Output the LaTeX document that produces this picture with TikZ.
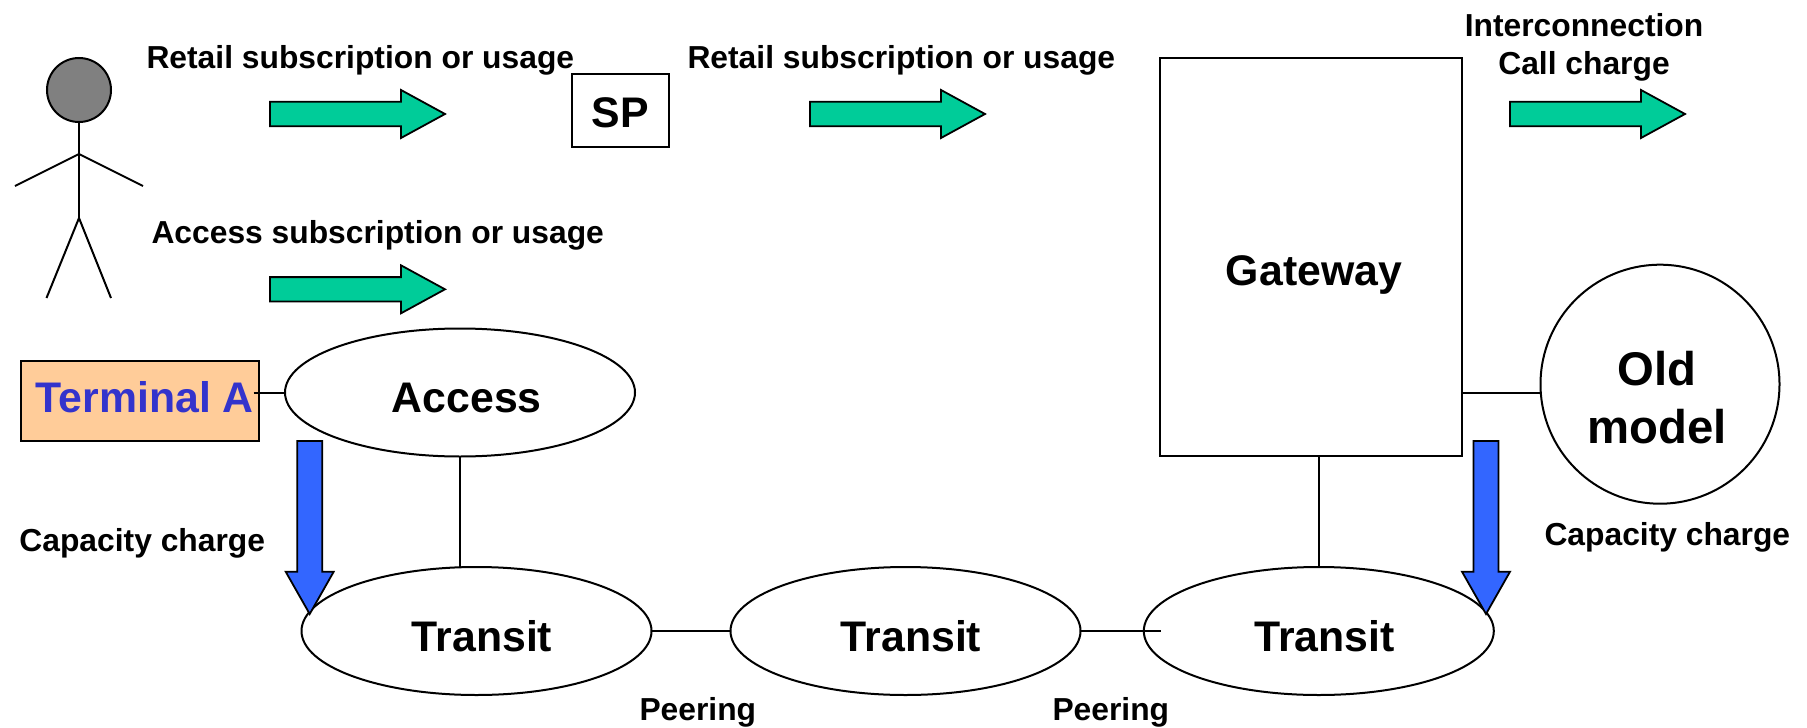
\documentclass[tikz,border=0pt]{standalone}
\usepackage{fontspec}
\setmainfont{Liberation Sans}
\usetikzlibrary{shapes.geometric}
\definecolor{arrowgreen}{HTML}{00CC99}
\definecolor{arrowblue}{HTML}{3366FF}
\definecolor{termfill}{HTML}{FFCC99}
\definecolor{termtext}{HTML}{3333CC}
\definecolor{headgray}{HTML}{808080}
\tikzset{
  every node/.style={inner sep=0pt,outer sep=0pt},
  smallfont/.style={font=\fontsize{31.8}{31.8}\selectfont\bfseries},
  smalltxt/.style={smallfont,anchor=base west},
  bigtxt/.style={font=\fontsize{42.8}{42.8}\selectfont\bfseries,anchor=base},
  hugetxt/.style={font=\fontsize{47.3}{47.3}\selectfont\bfseries,anchor=base},
  oval/.style={draw,ellipse,line width=2pt,minimum width=350pt,minimum height=128pt},
  boxed/.style={draw,rectangle,line width=2pt},
  wire/.style={line width=2pt},
  thinwire/.style={line width=1.6pt}
}
\newcommand{\greenarrow}[2]{% x-start, y of the tip
  \draw[line width=1.8pt,fill=arrowgreen,line join=miter]
    (#1,#2-12.2)--(#1+131,#2-12.2)--(#1+131,#2-24)--(#1+175,#2)--(#1+131,#2+24)--(#1+131,#2+12.2)--(#1,#2+12.2)--cycle;}
\newcommand{\bluearrow}[1]{% tip x
  \draw[line width=1.8pt,fill=arrowblue,line join=miter]
    (#1-12.5,441)--(#1+12.5,441)--(#1+12.5,571.7)--(#1+24,571.7)--(#1,614)--(#1-24,571.7)--(#1-12.5,571.7)--cycle;}
\begin{document}
\begin{tikzpicture}[x=1pt,y=-1pt]
\useasboundingbox (0,0) rectangle (1807,728);
% stick figure
\node[draw,circle,line width=2pt,fill=headgray,minimum size=64pt] (head) at (79,90) {};
\coordinate (shoulder) at (79,154);
\coordinate (hip) at (79,218);
\coordinate (handl) at (15,186);
\coordinate (handr) at (143,186);
\coordinate (footl) at (46.5,298);
\coordinate (footr) at (111,298);
\draw[wire] (head.south) -- (hip);
\draw[wire] (handl) -- (shoulder) -- (handr);
\draw[wire] (footl) -- (hip) -- (footr);
% boxes
\node[boxed,minimum width=97pt,minimum height=73pt] (sp) at (620,110.5) {};
\node[boxed,fill=termfill,minimum width=238pt,minimum height=80pt] (term) at (140,400.7) {};
\node[boxed,minimum width=301.6pt,minimum height=398pt] (gateway) at (1310.8,257) {};
% ovals
\node[oval] (access) at (460,392.5) {};
\node[oval] (t1) at (476.5,631) {};
\node[oval] (t2) at (905.5,631) {};
\node[oval] (t3) at (1318.8,631) {};
\node[draw,circle,line width=2pt,minimum size=239pt] (old) at (1660,384.2) {};
% connectors
\coordinate (termend) at (253.5,392.5);
\coordinate (t3in) at (1160.6,631);
\coordinate (gwold) at (gateway.east |- access.west);
\draw[wire] (termend) -- (access.west);
\draw[thinwire] (access.south) -- (access.south |- t1.north);
\draw[wire] (t1.east) -- (t2.west);
\draw[wire] (t2.east) -- (t3in);
\draw[thinwire] (t3.north) -- (t3.north |- gateway.south);
\draw[wire] (gwold) -- (gwold -| old.west);
% block arrows
\greenarrow{270}{114}
\greenarrow{810}{114}
\greenarrow{1510}{114}
\greenarrow{270}{289.3}
\bluearrow{309.7}
\bluearrow{1486}
% texts
\node[smalltxt] (l1) at (146.5,68.5) {Retail subscription or usage};
\node[smalltxt] (l2) at (687.5,68.5) {Retail subscription or usage};
\node[smalltxt] (l3) at (151.5,243) {Access subscription or usage};
\node[smallfont,anchor=base] (l4) at (1584,36.5) {Interconnection};
\node[smallfont,anchor=base] (l5) at (1584,74) {Call charge};
\node[smalltxt] (l6) at (19.4,551.5) {Capacity charge};
\node[smalltxt] (l7) at (1544.5,545) {Capacity charge};
\node[smalltxt] (l8) at (639.5,720) {Peering};
\node[smalltxt] (l9) at (1052.5,720) {Peering};
\node[bigtxt] (spt) at (620,127.5) {SP};
\node[bigtxt,anchor=base west,text=termtext] (termt) at (35.7,412.5) {Terminal A};
\node[bigtxt] (acct) at (466.7,412.5) {Access};
\node[bigtxt] (gwt) at (1314,285) {Gateway};
\node[bigtxt] (t1t) at (482,651.5) {Transit};
\node[bigtxt] (t2t) at (911,651.5) {Transit};
\node[bigtxt] (t3t) at (1324.5,651.5) {Transit};
\node[hugetxt] (oldt) at (1657,385) {Old};
\node[hugetxt] (modt) at (1657,443) {model};
\end{tikzpicture}
\end{document}
